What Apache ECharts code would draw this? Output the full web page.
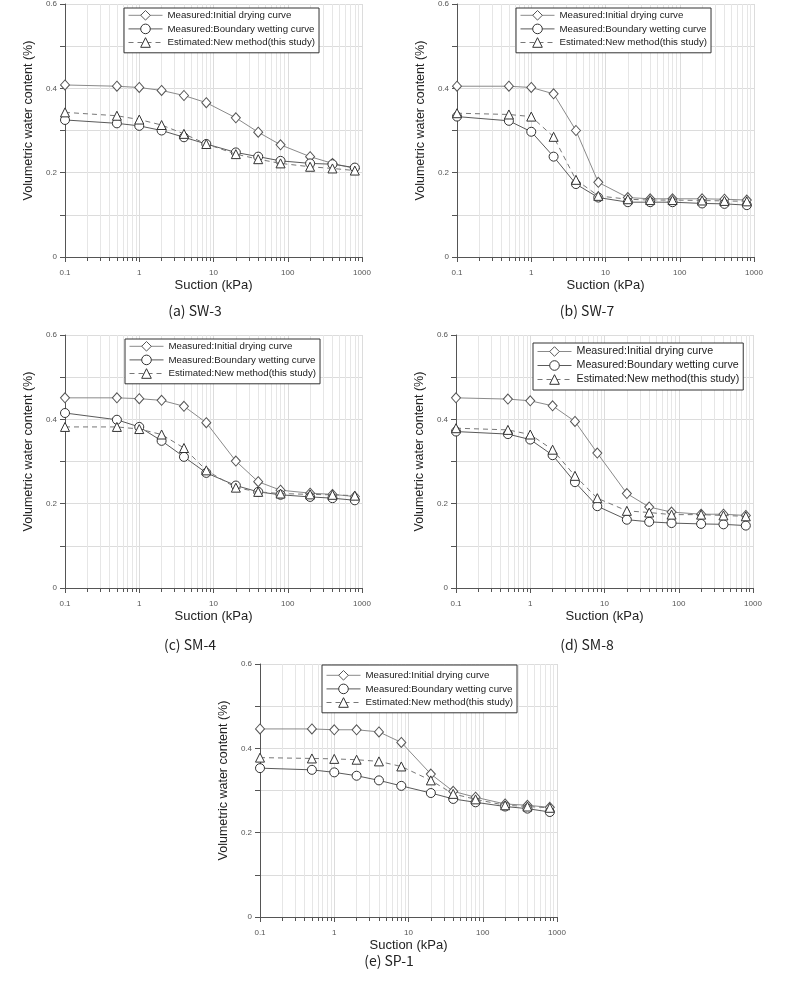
<!DOCTYPE html>
<html>
<head>
<meta charset="utf-8">
<script src="https://cdn.jsdelivr.net/npm/echarts@6/dist/echarts.min.js"></script>
<style>
  html, body { margin: 0; padding: 0; background: #fff; }
  #chart { width: 800px; height: 986px; }
</style>
</head>
<body>
<div id="chart"></div>
<script>
// suction steps (kPa), shared by every panel
const suction = [0.1, 0.5, 1, 2, 4, 8, 20, 40, 80, 200, 400, 800]

const seriesNames = [
  'Measured:Initial drying curve',
  'Measured:Boundary wetting curve',
  'Estimated:New method(this study)',
]

const panelCaptions = ['(a) SW-3', '(b) SW-7', '(c) SM-4', '(d) SM-8', '(e) SP-1']

// (a) SW-3
const sw3Drying = [0.408, 0.405, 0.402, 0.395, 0.383, 0.366, 0.330, 0.296, 0.266, 0.238, 0.222, 0.210]
const sw3Wetting = [0.325, 0.317, 0.311, 0.300, 0.284, 0.268, 0.248, 0.238, 0.228, 0.222, 0.220, 0.212]
const sw3Estimated = [0.343, 0.335, 0.326, 0.313, 0.292, 0.268, 0.244, 0.232, 0.222, 0.214, 0.210, 0.205]

// (b) SW-7
const sw7Drying = [0.405, 0.405, 0.402, 0.387, 0.300, 0.177, 0.141, 0.138, 0.138, 0.138, 0.137, 0.135]
const sw7Wetting = [0.333, 0.323, 0.297, 0.238, 0.173, 0.141, 0.130, 0.130, 0.130, 0.127, 0.126, 0.123]
const sw7Estimated = [0.341, 0.338, 0.333, 0.285, 0.183, 0.145, 0.137, 0.135, 0.135, 0.134, 0.133, 0.132]

// (c) SM-4
const sm4Drying = [0.451, 0.451, 0.449, 0.445, 0.431, 0.392, 0.301, 0.252, 0.232, 0.225, 0.222, 0.217]
const sm4Wetting = [0.415, 0.399, 0.382, 0.349, 0.311, 0.273, 0.243, 0.228, 0.221, 0.216, 0.213, 0.208]
const sm4Estimated = [0.382, 0.382, 0.377, 0.364, 0.332, 0.279, 0.238, 0.228, 0.224, 0.222, 0.221, 0.219]

// (d) SM-8
const sm8Drying = [0.451, 0.448, 0.444, 0.432, 0.395, 0.320, 0.224, 0.192, 0.180, 0.175, 0.175, 0.172]
const sm8Wetting = [0.371, 0.365, 0.352, 0.315, 0.251, 0.194, 0.162, 0.157, 0.154, 0.152, 0.151, 0.148]
const sm8Estimated = [0.379, 0.375, 0.364, 0.328, 0.266, 0.213, 0.183, 0.179, 0.174, 0.174, 0.172, 0.170]

// (e) SP-1
const sp1Drying = [0.446, 0.446, 0.444, 0.444, 0.439, 0.414, 0.339, 0.298, 0.284, 0.268, 0.265, 0.260]
const sp1Wetting = [0.353, 0.349, 0.343, 0.335, 0.324, 0.311, 0.294, 0.280, 0.272, 0.262, 0.257, 0.249]
const sp1Estimated = [0.378, 0.376, 0.375, 0.373, 0.369, 0.357, 0.324, 0.292, 0.279, 0.265, 0.262, 0.259]

const panelData = [
  [sw3Drying, sw3Wetting, sw3Estimated],
  [sw7Drying, sw7Wetting, sw7Estimated],
  [sm4Drying, sm4Wetting, sm4Estimated],
  [sm8Drying, sm8Wetting, sm8Estimated],
  [sp1Drying, sp1Wetting, sp1Estimated],
]

// layout of the five panels (pixels)
const panels = [
  { left: 65, top: 4, cap: [195, 311], legend: [124, 8, 9.7, 2] },
  { left: 457, top: 4, cap: [587, 311], legend: [516, 8, 9.7, 2] },
  { left: 65, top: 335, cap: [190, 645], legend: [125, 339, 9.7, 2] },
  { left: 456, top: 335, cap: [587, 645], legend: [533, 343, 10.7, 3] },
  { left: 260, top: 664, cap: [389, 961], legend: [322, 665, 9.7, 5] },
]
const plotW = 297
const plotH = 253

const FONT = '"Liberation Sans", Arial, sans-serif'

const styles = [
  {
    symbol: 'diamond', symbolSize: [9, 10],
    lineStyle: { color: '#8a8a8a', width: 1 },
    itemStyle: { color: '#fff', borderColor: '#555', borderWidth: 1 },
  },
  {
    symbol: 'circle', symbolSize: 9,
    lineStyle: { color: '#5a5a5a', width: 1 },
    itemStyle: { color: '#fff', borderColor: '#333', borderWidth: 1 },
  },
  {
    symbol: 'triangle', symbolSize: 9,
    lineStyle: { color: '#777', width: 1, type: [5, 4] },
    itemStyle: { color: '#fff', borderColor: '#333', borderWidth: 1 },
  },
]

const grid = [], xAxis = [], yAxis = [], series = [], legend = [], graphic = []

panels.forEach((p, k) => {
  grid.push({ left: p.left, top: p.top, width: plotW, height: plotH, containLabel: false })

  xAxis.push({
    gridIndex: k,
    type: 'log',
    logBase: 10,
    min: 0.1,
    max: 1000,
    name: 'Suction (kPa)',
    nameLocation: 'middle',
    nameGap: 22,
    nameTextStyle: { fontFamily: FONT, fontSize: 13, color: '#222' },
    axisLine: { show: true, lineStyle: { color: '#555', width: 1 } },
    axisTick: { show: true, inside: false, length: 5, lineStyle: { color: '#555' } },
    minorTick: { show: true, splitNumber: 9, length: 4, lineStyle: { color: '#555' } },
    axisLabel: {
      fontFamily: FONT, fontSize: 8, color: '#555', margin: 12,
      formatter: v => String(v),
    },
    splitLine: { show: true, lineStyle: { color: '#dcdcdc', width: 1 } },
    minorSplitLine: { show: true, lineStyle: { color: '#e6e6e6', width: 1 } },
  })

  yAxis.push({
    gridIndex: k,
    type: 'value',
    min: 0,
    max: 0.6,
    interval: 0.2,
    name: 'Volumetric water content (%)',
    nameLocation: 'middle',
    nameGap: 30,
    nameTextStyle: { fontFamily: FONT, fontSize: 12.5, color: '#222', padding: [0, 0, 0, 20] },
    axisLine: { show: true, lineStyle: { color: '#555', width: 1 } },
    axisTick: { show: true, inside: false, length: 5, lineStyle: { color: '#555' } },
    minorTick: { show: true, splitNumber: 2, length: 5, lineStyle: { color: '#555' } },
    axisLabel: { fontFamily: FONT, fontSize: 8, color: '#555', margin: 8 },
    splitLine: { show: true, lineStyle: { color: '#dcdcdc', width: 1 } },
    minorSplitLine: { show: true, lineStyle: { color: '#dcdcdc', width: 1 } },
  })

  panelData[k].forEach((vals, s) => {
    series.push(Object.assign({
      name: seriesNames[s],
      type: 'line',
      xAxisIndex: k,
      yAxisIndex: k,
      data: suction.map((x, i) => [x, vals[i]]),
      z: 3 + s,
    }, styles[s]))
  })

  legend.push({
    data: seriesNames,
    orient: 'vertical',
    left: p.legend[0],
    top: p.legend[1],
    padding: [p.legend[3], 4, 5, 4],
    itemWidth: 34,
    itemHeight: 12,
    itemGap: 3,
    backgroundColor: '#fff',
    borderColor: '#333',
    borderWidth: 1,
    borderRadius: 0,
    selectedMode: false,
    itemStyle: { borderWidth: 1 },
    lineStyle: { width: 1 },
    textStyle: { fontFamily: FONT, fontSize: p.legend[2], color: '#222' },
  })

  graphic.push({
    type: 'text',
    x: p.cap[0],
    y: p.cap[1],
    style: {
      text: panelCaptions[k],
      fill: '#222',
      font: '14px "Noto Sans CJK KR", "Liberation Sans", sans-serif',
      textAlign: 'center',
      textVerticalAlign: 'middle',
    },
  })
})

const chart = echarts.init(document.getElementById('chart'), null, { renderer: 'canvas' })
chart.setOption({
  animation: false,
  backgroundColor: '#fff',
  grid, xAxis, yAxis, series, legend, graphic,
})
</script>
</body>
</html>
